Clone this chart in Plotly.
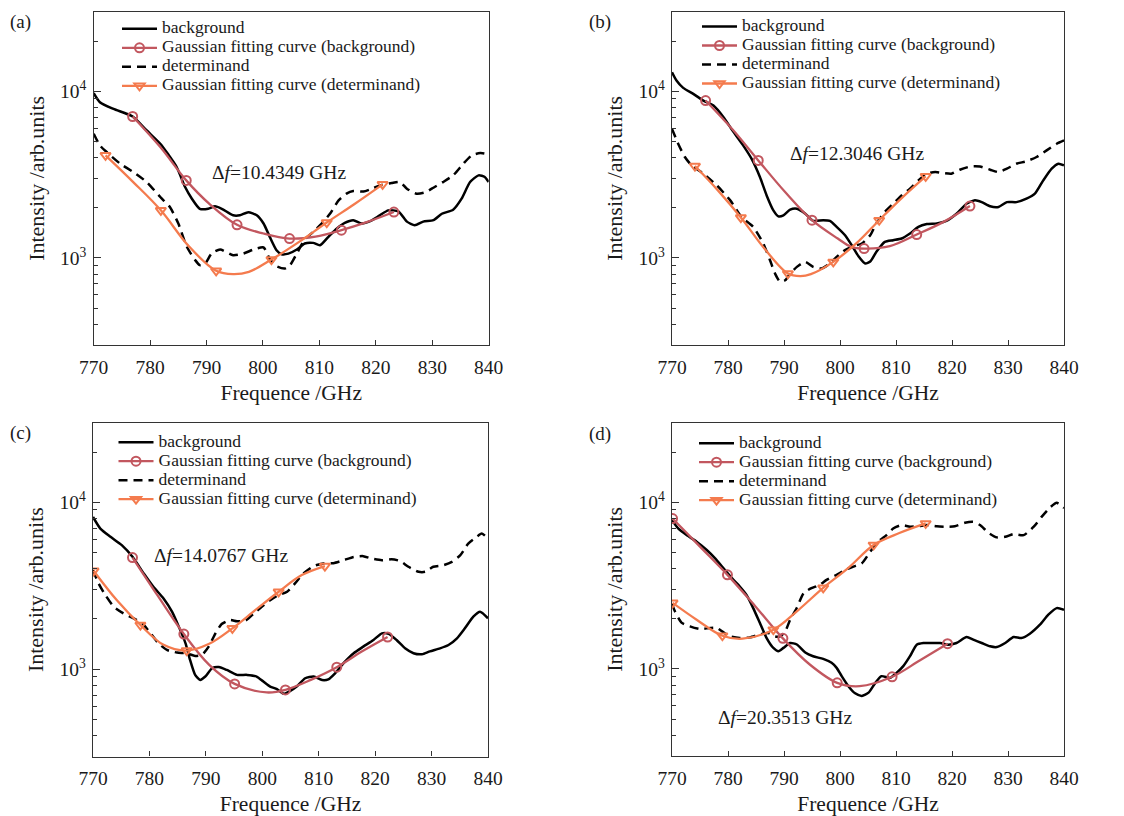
import math
import plotly.graph_objects as go

# ---------------- data ----------------
# panel (a)
a_bg_x = [770, 771.1, 773.5, 776.9, 779.4, 781.8, 783.2, 784.7, 786.2, 787.4, 788.8, 790.3, 791.5, 792.7, 794.7,
          795.9, 797.4, 798.9, 800.1, 801.2, 802.4, 803.3, 804.5, 806.0, 807.4, 808.9, 810.1, 811.6, 813.1, 814.5,
          816.0, 817.5, 819.0, 820.7, 822.2, 824.0, 825.5, 826.9, 828.4, 830.2, 831.7, 833.7, 835.2, 836.7, 838.2,
          839.3, 840]
a_bg_y = [9730, 8590, 7830, 7050, 5810, 4840, 4180, 3510, 2660, 2265, 1970, 1970, 2040, 1970, 1800,
          1800, 1880, 1800, 1607, 1337, 1112, 1052, 1060, 1122, 1220, 1230, 1190, 1337, 1500, 1622,
          1683, 1607, 1660, 1800, 1928, 1900, 1650, 1570, 1650, 1683, 1840, 1945, 2265, 2850, 3127,
          3060, 2850]
a_det_x = [770, 771.1, 772.3, 774.7, 777.0, 779.4, 781.8, 783.5, 785.0, 786.5, 788.0, 788.8, 789.7, 790.9, 792.4,
           794.7, 796.5, 798.3, 800.1, 801.2, 802.4, 803.9, 804.8, 806.0, 807.4, 808.9, 810.4, 811.9, 813.4, 814.8,
           816.0, 817.8, 819.3, 820.7, 822.8, 824.3, 825.5, 827.2, 828.7, 830.2, 831.9, 833.7, 835.5, 837.0, 838.5,
           840]
a_det_y = [5560, 4730, 4315, 3672, 3273, 2850, 2318, 2018, 1607, 1165, 968, 904, 920, 1062, 1122,
           1038, 1060, 1122, 1154, 986, 891, 863, 904, 1062, 1288, 1432, 1607, 1843, 2213, 2427,
           2518, 2500, 2600, 2722, 2812, 2850, 2600, 2427, 2470, 2636, 2850, 3127, 3672, 4121, 4256,
           4180]
a_fbg_x = [776.9, 781.8, 786.4, 790.6, 795.4, 800.1, 804.7, 809.3, 813.9, 818.5, 823.2]
a_fbg_y = [7050, 4620, 2917, 2094, 1578, 1400, 1306, 1340, 1466, 1644, 1884]
a_fbg_mx = [776.9, 786.4, 795.4, 804.7, 813.9, 823.2]
a_fbg_my = [7050, 2917, 1578, 1306, 1466, 1884]
a_fdet_x = [772.1, 777.0, 781.9, 786.8, 791.7, 794.7, 797.5, 801.5, 806.4, 811.3, 816.3, 821.2]
a_fdet_y = [4121, 2850, 1928, 1180, 836, 798, 824, 977, 1247, 1629, 2113, 2761]
a_fdet_mx = [772.1, 781.9, 791.7, 801.5, 811.3, 821.2]
a_fdet_my = [4121, 1928, 836, 977, 1629, 2761]

# panel (b)
b_bg_x = [770, 770.8, 772.0, 773.8, 775.6, 777.4, 779.2, 781.0, 782.7, 784.2, 785.7, 786.9, 788.1, 789.0, 789.9,
          791.1, 792.3, 793.8, 795.2, 797.0, 798.2, 799.4, 800.9, 802.1, 803.3, 804.5, 805.4, 806.5, 808.0, 809.5,
          811.0, 812.5, 814.0, 815.5, 817.3, 819.0, 820.8, 822.6, 824.1, 825.3, 826.8, 828.3, 829.8, 831.5, 833.3,
          834.8, 836.3, 837.8, 839.0, 840]
b_bg_y = [13000, 11590, 10470, 9640, 8790, 8200, 6980, 5680, 4730, 3935, 3055, 2370, 1928, 1775, 1800,
          1945, 1970, 1840, 1667, 1683, 1667, 1535, 1368, 1191, 1023, 925, 950, 1087, 1247, 1276,
          1306, 1400, 1535, 1595, 1610, 1667, 1840, 2113, 2213, 2160, 2040, 2020, 2160, 2160, 2265,
          2427, 2917, 3430, 3672, 3590]
b_det_x = [770, 771.1, 772.3, 773.5, 775.6, 778.0, 780.4, 782.4, 784.5, 786.3, 787.5, 788.4, 789.3, 790.2, 791.1,
           792.3, 793.8, 795.2, 796.7, 798.2, 799.4, 800.9, 802.4, 803.9, 805.4, 806.5, 808.0, 809.5, 811.0, 812.5,
           814.0, 815.5, 817.0, 818.5, 819.9, 821.4, 823.2, 825.0, 826.8, 828.3, 829.8, 831.5, 833.3, 835.1, 836.9,
           838.7, 840]
b_det_y = [5945, 4840, 4030, 3590, 3200, 2722, 2213, 1758, 1535, 1220, 968, 805, 718, 733, 805,
           883, 946, 883, 863, 925, 1014, 1112, 1175, 1220, 1368, 1607, 1884, 2113, 2370, 2600,
           2917, 3200, 3270, 3225, 3200, 3380, 3530, 3530, 3380, 3270, 3430, 3672, 3800, 4030, 4415,
           4840, 5070]
b_fbg_x = [776.0, 780.7, 785.4, 790.2, 795.0, 799.6, 802.0, 804.3, 808.9, 813.7, 818.5, 823.2]
b_fbg_y = [8790, 5945, 3845, 2483, 1683, 1306, 1165, 1137, 1175, 1380, 1644, 2046]
b_fbg_mx = [776.0, 785.4, 795.0, 804.3, 813.7, 823.2]
b_fbg_my = [8790, 3845, 1683, 1137, 1380, 2046]
b_fdet_x = [774.1, 778.2, 782.3, 786.5, 790.7, 792.9, 794.8, 798.8, 802.9, 807.0, 811.2, 815.3]
b_fdet_y = [3557, 2541, 1746, 1137, 805, 777, 798, 946, 1220, 1683, 2317, 3085]
b_fdet_mx = [774.1, 782.3, 790.7, 798.8, 807.0, 815.3]
b_fdet_my = [3557, 1746, 805, 946, 1683, 3085]

# panel (c)
c_bg_x = [770, 771.3, 773.1, 775.1, 777.0, 779.0, 780.7, 782.5, 784.0, 785.2, 786.4, 787.2, 788.1, 789.0, 789.9,
          791.1, 792.3, 793.7, 795.5, 797.3, 799.0, 800.2, 801.4, 802.6, 803.8, 804.9, 806.1, 807.6, 809.1, 810.6,
          811.7, 812.9, 814.4, 816.2, 817.9, 819.7, 821.2, 822.4, 823.8, 825.3, 826.8, 828.3, 829.7, 831.5, 833.0,
          834.5, 835.9, 837.4, 838.6, 840]
c_bg_y = [8170, 6960, 6210, 5540, 4715, 3745, 3120, 2655, 2213, 1800, 1430, 1137, 925, 863, 904,
          1014, 1030, 990, 925, 925, 904, 843, 787, 760, 713, 740, 787, 883, 904, 862,
          870, 946, 1087, 1247, 1366, 1497, 1641, 1630, 1497, 1334, 1247, 1230, 1280, 1334, 1397,
          1531, 1758, 2065, 2213, 2018]
c_det_x = [770, 771.0, 772.2, 773.7, 775.4, 777.2, 778.7, 780.2, 781.6, 783.1, 784.9, 786.6, 788.1, 789.3, 790.5,
           791.7, 792.8, 794.3, 795.5, 797.0, 798.5, 799.9, 801.4, 802.9, 804.4, 805.8, 807.3, 809.1, 810.8, 812.6,
           814.4, 816.2, 817.9, 819.4, 821.2, 822.9, 824.4, 825.9, 827.7, 828.9, 830.3, 832.1, 833.6, 835.1, 836.5,
           838.0, 838.9, 840]
c_det_y = [3925, 3266, 2780, 2366, 2160, 2018, 1884, 1641, 1430, 1305, 1258, 1247, 1202, 1220, 1366,
           1641, 1866, 1972, 1940, 1955, 2160, 2366, 2595, 2780, 2911, 3266, 3750, 4150, 4300, 4320,
           4500, 4710, 4760, 4600, 4500, 4560, 4450, 4110, 3837, 3837, 4110, 4200, 4400, 4820, 5660,
           6210, 6500, 6070]
c_fbg_x = [777.0, 781.5, 786.1, 790.6, 795.1, 800.8, 804.1, 808.6, 813.2, 817.7, 822.2]
c_fbg_y = [4670, 2750, 1625, 1062, 817, 726, 752, 863, 1028, 1280, 1560]
c_fbg_mx = [777.0, 786.1, 795.1, 804.1, 813.2, 822.2]
c_fbg_my = [4670, 1625, 817, 752, 1028, 1560]
c_fdet_x = [770.1, 774.2, 778.4, 782.5, 786.6, 790.6, 794.7, 798.8, 802.9, 807.0, 811.1]
c_fdet_y = [3890, 2595, 1841, 1400, 1294, 1420, 1758, 2265, 2911, 3665, 4150]
c_fdet_mx = [770.1, 778.4, 786.6, 794.7, 802.9, 811.1]
c_fdet_my = [3890, 1841, 1294, 1758, 2911, 4150]

# panel (d)
d_bg_x = [770, 771.1, 772.6, 774.4, 776.2, 777.7, 779.2, 780.7, 782.1, 783.3, 784.5, 785.7, 786.9, 788.1, 789.0,
          789.9, 791.1, 792.3, 793.8, 795.2, 797.0, 798.5, 799.4, 800.3, 801.5, 802.7, 803.9, 805.1, 806.3, 807.4,
          808.9, 810.1, 811.3, 812.5, 813.7, 814.9, 816.4, 817.9, 819.3, 820.8, 822.6, 823.8, 825.3, 826.8, 828.0,
          829.5, 831.0, 832.4, 833.9, 835.7, 837.2, 838.7, 840]
d_bg_y = [7800, 6960, 6350, 5795, 5165, 4600, 4015, 3500, 3120, 2780, 2315, 1884, 1531, 1336, 1276,
          1336, 1430, 1400, 1254, 1191, 1147, 1087, 1014, 904, 787, 713, 687, 720, 824, 904,
          883, 946, 1038, 1191, 1397, 1430, 1430, 1430, 1397, 1430, 1552, 1497, 1430, 1366, 1352,
          1430, 1552, 1530, 1625, 1841, 2113, 2315, 2262]
d_det_x = [770, 770.5, 771.7, 773.2, 775.0, 776.8, 778.0, 779.2, 780.4, 782.1, 783.9, 785.7, 787.2, 788.4, 789.3,
           790.2, 791.1, 792.3, 793.5, 794.9, 796.4, 797.6, 799.4, 800.9, 802.4, 803.9, 805.4, 806.8, 808.3, 809.5,
           811.0, 812.5, 814.0, 815.5, 817.3, 819.0, 820.5, 822.3, 823.8, 825.0, 826.5, 828.0, 829.5, 831.0, 832.8,
           834.6, 836.0, 837.5, 838.7, 840]
d_det_y = [2450, 2222, 1893, 1800, 1734, 1760, 1760, 1655, 1566, 1531, 1545, 1611, 1640, 1566, 1566,
           1672, 1972, 2328, 2845, 3048, 3190, 3420, 3665, 3925, 4110, 4300, 5050, 5795, 6350, 6960,
           7295, 7130, 7170, 7295, 7170, 7130, 7170, 7520, 7620, 7295, 6560, 6150, 6200, 6440, 6350,
           7130, 8170, 9290, 9910, 9240]
d_fbg_x = [770.1, 775.0, 779.9, 784.9, 789.8, 794.6, 799.5, 803.5, 809.3, 814.3, 819.2]
d_fbg_y = [7980, 5410, 3665, 2370, 1524, 1062, 824, 787, 896, 1127, 1416]
d_fbg_mx = [770.1, 779.9, 789.8, 799.5, 809.3, 819.2]
d_fbg_my = [7980, 3665, 1524, 824, 896, 1416]
d_fdet_x = [770.1, 774.4, 779.0, 782.6, 788.1, 792.5, 797.0, 801.5, 806.0, 810.6, 815.3]
d_fdet_y = [2490, 1972, 1581, 1517, 1718, 2245, 3062, 4036, 5540, 6530, 7460]
d_fdet_mx = [770.1, 779.0, 788.1, 797.0, 806.0, 815.3]
d_fdet_my = [2490, 1581, 1718, 3062, 5540, 7460]

panel_labels = ["(a)", "(b)", "(c)", "(d)"]
delta_f = ["10.4349", "12.3046", "14.0767", "20.3513"]
series_names = ["background", "Gaussian fitting curve (background)", "determinand",
                "Gaussian fitting curve (determinand)"]
x_title = "Frequence /GHz"
y_title = "Intensity /arb.units"

# ---------------- style ----------------
FONT = "Liberation Serif"
TXT = "#1a1a1a"
AX = "#333333"
ROSE = "#C2575F"
ORANGE = "#F47B4E"
W, H = 1124, 816

panels = [
    dict(bg=(a_bg_x, a_bg_y), det=(a_det_x, a_det_y), fbg=(a_fbg_x, a_fbg_y), fbgm=(a_fbg_mx, a_fbg_my),
         fdet=(a_fdet_x, a_fdet_y), fdetm=(a_fdet_mx, a_fdet_my),
         px=(93.7, 488.7), py=(11.7, 345), leg=(117, 14.3), ann=(210, 172), lab=(20, 22)),
    dict(bg=(b_bg_x, b_bg_y), det=(b_det_x, b_det_y), fbg=(b_fbg_x, b_fbg_y), fbgm=(b_fbg_mx, b_fbg_my),
         fdet=(b_fdet_x, b_fdet_y), fdetm=(b_fdet_mx, b_fdet_my),
         px=(672, 1064), py=(11.7, 345), leg=(697, 12), ann=(788, 153), lab=(600, 22)),
    dict(bg=(c_bg_x, c_bg_y), det=(c_det_x, c_det_y), fbg=(c_fbg_x, c_fbg_y), fbgm=(c_fbg_mx, c_fbg_my),
         fdet=(c_fdet_x, c_fdet_y), fdetm=(c_fdet_mx, c_fdet_my),
         px=(93, 488), py=(422.7, 756.5), leg=(113.5, 427.7), ann=(152, 555), lab=(20, 433)),
    dict(bg=(d_bg_x, d_bg_y), det=(d_det_x, d_det_y), fbg=(d_fbg_x, d_fbg_y), fbgm=(d_fbg_mx, d_fbg_my),
         fdet=(d_fdet_x, d_fdet_y), fdetm=(d_fdet_mx, d_fdet_my),
         px=(672, 1064), py=(422.7, 756), leg=(694, 428.7), ann=(716, 717), lab=(600, 434)),
]

fig = go.Figure()
layout = dict(width=W, height=H, margin=dict(l=0, r=0, t=0, b=0, autoexpand=False), paper_bgcolor="white",
              plot_bgcolor="white", showlegend=True, annotations=[])


def nm(s):
    return '<span style="font-size:17.5px">' + s + '</span>'


for i, p in enumerate(panels):
    k = "" if i == 0 else str(i + 1)
    xa, ya, lg = "x" + k, "y" + k, "legend" + k
    common = dict(xaxis=xa, yaxis=ya, legend=lg)
    # raw curves
    fig.add_trace(go.Scatter(x=p["bg"][0], y=p["bg"][1], mode="lines", name=nm(series_names[0]),
                             line=dict(color="black", width=2.5, shape="spline", smoothing=0.6),
                             legendrank=1, **common))
    fig.add_trace(go.Scatter(x=p["det"][0], y=p["det"][1], mode="lines", name=nm(series_names[2]),
                             line=dict(color="black", width=2.5, dash="9px,6px", shape="spline", smoothing=0.6),
                             legendrank=3, **common))
    # fitted curves
    for key, mkey, col, sym, rank, nmx in [("fbg", "fbgm", ROSE, "circle-open", 2, series_names[1]),
                                           ("fdet", "fdetm", ORANGE, "triangle-down-open", 4, series_names[3])]:
        fig.add_trace(go.Scatter(x=p[key][0], y=p[key][1], mode="lines", showlegend=False,
                                 line=dict(color=col, width=2.3, shape="spline", smoothing=1.0), **common))
        fig.add_trace(go.Scatter(x=p[mkey][0], y=p[mkey][1], mode="markers", showlegend=False,
                                 marker=dict(symbol=sym, size=9, color=col, line=dict(color=col, width=2)),
                                 **common))
        fig.add_trace(go.Scatter(x=[None], y=[None], mode="lines+markers", name=nm(nmx), legendrank=rank,
                                 line=dict(color=col, width=2.3),
                                 marker=dict(symbol=sym, size=9, color=col, line=dict(color=col, width=2)),
                                 **common))

    xd = [p["px"][0] / W, p["px"][1] / W]
    yd = [1 - p["py"][1] / H, 1 - p["py"][0] / H]
    layout["xaxis" + k] = dict(domain=xd, anchor=ya, range=[770, 840], tick0=770, dtick=10,
                               ticks="inside", ticklen=5, tickwidth=1.3, tickcolor=AX,
                               showline=True, linecolor=AX, linewidth=1.3, mirror=True,
                               showgrid=False, zeroline=False, ticklabelstandoff=4,
                               tickfont=dict(family=FONT, size=19.5, color=TXT),
                               title=dict(text=x_title, font=dict(family=FONT, size=21.5, color=TXT),
                                          standoff=8))
    layout["yaxis" + k] = dict(domain=yd, anchor=xa, type="log",
                               range=[math.log10(300), math.log10(30000)], dtick=1,
                               exponentformat="power", ticks="inside", ticklen=7, tickwidth=1.3,
                               tickcolor=AX, showline=True, linecolor=AX, linewidth=1.3, mirror=True,
                               showgrid=False, zeroline=False, ticklabelstandoff=3,
                               minor=dict(ticks="inside", ticklen=4, tickwidth=1.1, tickcolor=AX,
                                          dtick="D1", showgrid=False),
                               tickfont=dict(family=FONT, size=15.6, color=TXT),
                               title=dict(text=y_title, font=dict(family=FONT, size=22, color=TXT),
                                          standoff=9))
    layout[lg] = dict(x=p["leg"][0] / W, y=1 - p["leg"][1] / H, xanchor="left", yanchor="top",
                      bgcolor="rgba(0,0,0,0)", borderwidth=0, itemwidth=35,
                      font=dict(family=FONT, size=12, color=TXT), tracegroupgap=0)
    layout["annotations"].append(dict(text="Δ<i>f</i>=" + delta_f[i] + " GHz", xref="paper", yref="paper",
                                      x=p["ann"][0] / W, y=1 - p["ann"][1] / H, xanchor="left",
                                      yanchor="middle", showarrow=False,
                                      font=dict(family=FONT, size=19.5, color=TXT)))
    layout["annotations"].append(dict(text=panel_labels[i], xref="paper", yref="paper",
                                      x=p["lab"][0] / W, y=1 - p["lab"][1] / H, xanchor="center",
                                      yanchor="middle", showarrow=False,
                                      font=dict(family=FONT, size=19, color=TXT)))

fig.update_layout(**layout)
fig.write_html("out.html", post_script="document.body.style.margin='0';")
